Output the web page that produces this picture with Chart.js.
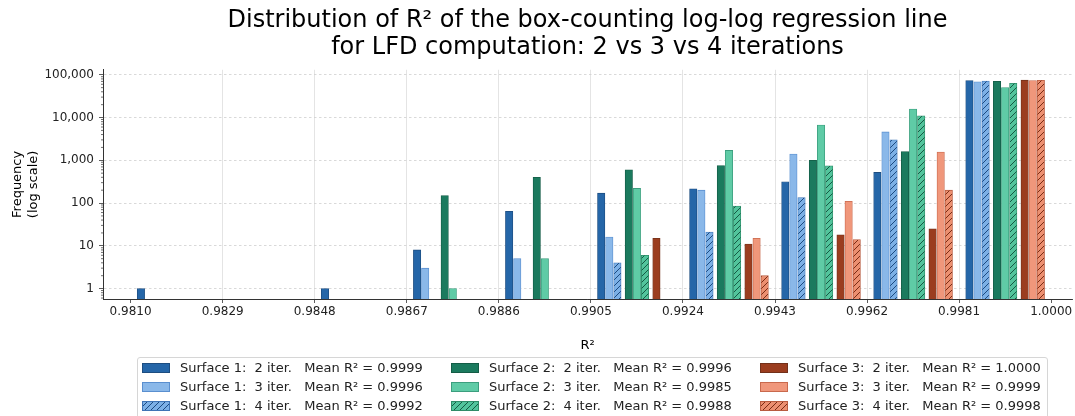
<!DOCTYPE html>
<html>
<head>
<meta charset="utf-8">
<title>R² distribution</title>
<script src="https://cdn.jsdelivr.net/npm/chart.js@4.4.1/dist/chart.umd.min.js"></script>
<style>
  html, body { margin: 0; padding: 0; background: #fff; overflow: hidden; }
  #wrap { position: relative; width: 1075px; height: 416px; }
  #legend {
    position: absolute; left: 137px; top: 357px; width: 911px; height: 70px;
    box-sizing: border-box; border: 1px solid #d6d6d6; border-radius: 3px;
    padding: 0 0 0 4px; background: rgba(255,255,255,0.8);
    display: grid; grid-template-columns: 309px 309px 280px;
    grid-template-rows: 19px 19px 19px; grid-auto-flow: column;
    font: 13px "DejaVu Sans", sans-serif; color: #222;
  }
  .item { display: flex; align-items: center; white-space: pre; }
  .item canvas { margin-right: 10px; }
</style>
</head>
<body>
<div id="wrap">
  <canvas id="chart" width="1075" height="416"></canvas>
  <div id="legend"></div>
</div>
<script>
// bins (left edges) and axis ticks
const binStart = [0.9810, 0.9829, 0.9848, 0.9867, 0.9886, 0.9905, 0.9924, 0.9943, 0.9962, 0.9981];
const binWidth = 0.0019;
const xTicks = [0.9810, 0.9829, 0.9848, 0.9867, 0.9886, 0.9905, 0.9924, 0.9943, 0.9962, 0.9981, 1.0000];
const xTickLabels = ['0.9810', '0.9829', '0.9848', '0.9867', '0.9886', '0.9905', '0.9924', '0.9943', '0.9962', '0.9981', '1.0000'];
const yTicks = [1, 10, 100, 1000, 10000, 100000];
const yTickLabels = ['1', '10', '100', '1,000', '10,000', '100,000'];

// counts per bin
const surf1it2 = [1, 0, 1, 8, 64, 170, 215, 315, 520, 73506];
const surf1it3 = [0, 0, 0, 3, 5, 16, 200, 1400, 4600, 68576];
const surf1it4 = [0, 0, 0, 0, 0, 4, 21, 135, 3000, 71640];
const surf2it2 = [0, 0, 0, 150, 400, 600, 750, 1000, 1600, 70300];
const surf2it3 = [0, 0, 0, 1, 5, 220, 1700, 6700, 15800, 50374];
const surf2it4 = [0, 0, 0, 0, 0, 6, 85, 740, 11000, 62969];
const surf3it2 = [0, 0, 0, 0, 0, 15, 11, 18, 25, 74731];
const surf3it3 = [0, 0, 0, 0, 0, 0, 15, 110, 1550, 73125];
const surf3it4 = [0, 0, 0, 0, 0, 0, 2, 14, 200, 74584];

const seriesNames = ['Surface 1:  2 iter.', 'Surface 1:  3 iter.', 'Surface 1:  4 iter.',
                     'Surface 2:  2 iter.', 'Surface 2:  3 iter.', 'Surface 2:  4 iter.',
                     'Surface 3:  2 iter.', 'Surface 3:  3 iter.', 'Surface 3:  4 iter.'];
const meanR2 = ['0.9999', '0.9996', '0.9992', '0.9996', '0.9985', '0.9988', '1.0000', '0.9999', '0.9998'];

const allCounts = [surf1it2, surf1it3, surf1it4, surf2it2, surf2it3, surf2it4, surf3it2, surf3it3, surf3it4];

// styles
const fills   = ['#2566a8', '#8ab8e9', '#7cb0e6', '#1b7a5e', '#5fcba6', '#52c49c', '#9b3d1f', '#f0977b', '#ec8f70'];
const edges   = ['#1d4d80', '#5a8fcf', '#3f74b5', '#145c46', '#3c9e7e', '#2f8c68', '#72301a', '#c9694d', '#b85c40'];
const hatches = ['#1c4a80', '#145a44', '#7a2c14'];
const FONT = '"DejaVu Sans", sans-serif';

var GROUP = binWidth * 0.30;  // spacing between surface groups
var SLOT = binWidth * 0.088;  // spacing between iterations

function hatch(ctx, fill, line) {
  var c = document.createElement('canvas');
  c.width = 6; c.height = 6;
  var p = c.getContext('2d');
  p.fillStyle = fill;
  p.fillRect(0, 0, 6, 6);
  p.strokeStyle = line;
  p.lineWidth = 1;
  p.beginPath();
  p.moveTo(0, 6); p.lineTo(6, 0);
  p.moveTo(-1, 1); p.lineTo(1, -1);
  p.moveTo(5, 7); p.lineTo(7, 5);
  p.stroke();
  return ctx.createPattern(c, 'repeat');
}

function fillFor(ctx, k) {
  if (k % 3 === 2) return hatch(ctx, fills[k], hatches[Math.floor(k / 3)]);
  return fills[k];
}

var canvas = document.getElementById('chart');
var cctx = canvas.getContext('2d');

var datasets = allCounts.map(function (counts, k) {
  var s = Math.floor(k / 3), it = k % 3;
  return {
    label: seriesNames[k] + '   Mean R² = ' + meanR2[k],
    data: binStart.map(function (b, i) {
      return { x: b + binWidth / 2 + (s - 1) * GROUP + (it - 1) * SLOT, y: counts[i] > 0 ? counts[i] : null };
    }),
    backgroundColor: fillFor(cctx, k),
    borderColor: edges[k],
    borderWidth: 0.8,
    grouped: false,
    barThickness: 7.4
  };
});

// little minor ticks on the log axis
var minorTicks = {
  id: 'minorTicks',
  afterDraw: function (chart) {
    var y = chart.scales.y, ctx = chart.ctx;
    ctx.save();
    ctx.strokeStyle = '#333';
    ctx.lineWidth = 0.7;
    for (var d = -1; d <= 5; d++) {
      for (var m = 2; m <= 9; m++) {
        var v = m * Math.pow(10, d);
        if (v < y.min || v > y.max) continue;
        var py = y.getPixelForValue(v);
        ctx.beginPath();
        ctx.moveTo(y.right - 2, py);
        ctx.lineTo(y.right, py);
        ctx.stroke();
      }
    }
    ctx.restore();
  }
};

var chart = new Chart(cctx, {
  type: 'bar',
  data: { datasets: datasets },
  options: {
    responsive: false,
    animation: false,
    layout: { padding: { left: 0, right: 3, top: 0, bottom: 63 } },
    plugins: {
      legend: { display: false },
      tooltip: { enabled: false },
      title: {
        display: true,
        fullSize: false,
        text: ['Distribution of R² of the box-counting log-log regression line',
               'for LFD computation: 2 vs 3 vs 4 iterations'],
        color: '#000',
        font: { family: FONT, size: 24, weight: 'normal', lineHeight: 1.12 },
        padding: { top: 7, bottom: 9 }
      }
    },
    scales: {
      x: {
        type: 'linear',
        min: 0.98043,
        max: 1.00043,
        offset: false,
        afterBuildTicks: function (scale) {
          scale.ticks = xTicks.map(function (v) { return { value: v }; });
        },
        afterFit: function (scale) { scale.height = 54; },
        ticks: {
          autoSkip: false, maxRotation: 0, padding: 2, color: '#222',
          font: { family: FONT, size: 12 },
          callback: function (v, i) { return xTickLabels[i]; }
        },
        grid: {
          offset: false,
          color: function (c) {
            return (c.index === 0 || c.index === xTicks.length - 1) ? 'rgba(0,0,0,0)' : '#dddddd';
          },
          lineWidth: 0.8,
          tickLength: 4, tickColor: '#333', tickWidth: 0.8
        },
        border: { color: '#333', width: 1 },
        title: {
          display: true, text: 'R²', color: '#000',
          font: { family: FONT, size: 13, lineHeight: 1.2 },
          padding: { top: 0, bottom: 0 }
        }
      },
      y: {
        type: 'logarithmic',
        min: 0.57,
        max: 131000,
        bounds: 'data',
        afterBuildTicks: function (scale) {
          scale.ticks = yTicks.map(function (v) { return { value: v }; });
        },
        afterFit: function (scale) { scale.width = 103; },
        ticks: {
          padding: 5, color: '#222',
          font: { family: FONT, size: 12 },
          callback: function (v, i) { return yTickLabels[i]; }
        },
        grid: {
          color: '#cfcfcf', lineWidth: 0.8,
          tickLength: 4, tickColor: '#333', tickWidth: 0.8
        },
        border: { color: '#333', width: 1, dash: [2.5, 2.5] },
        title: {
          display: true, text: ['Frequency', '(log scale)'], color: '#000',
          font: { family: FONT, size: 13, lineHeight: 1.2 },
          padding: { top: 10, bottom: 0 }
        }
      }
    }
  },
  plugins: [minorTicks]
});

// legend, column by column like the original
var legend = document.getElementById('legend');
chart.data.datasets.forEach(function (ds, k) {
  var item = document.createElement('div');
  item.className = 'item';
  var sw = document.createElement('canvas');
  sw.width = 28; sw.height = 10;
  var sc = sw.getContext('2d');
  sc.fillStyle = fillFor(sc, k);
  sc.fillRect(0, 0, 28, 10);
  sc.strokeStyle = edges[k];
  sc.lineWidth = 1;
  sc.strokeRect(0.5, 0.5, 27, 9);
  item.appendChild(sw);
  item.appendChild(document.createTextNode(ds.label));
  legend.appendChild(item);
});
</script>
</body>
</html>
